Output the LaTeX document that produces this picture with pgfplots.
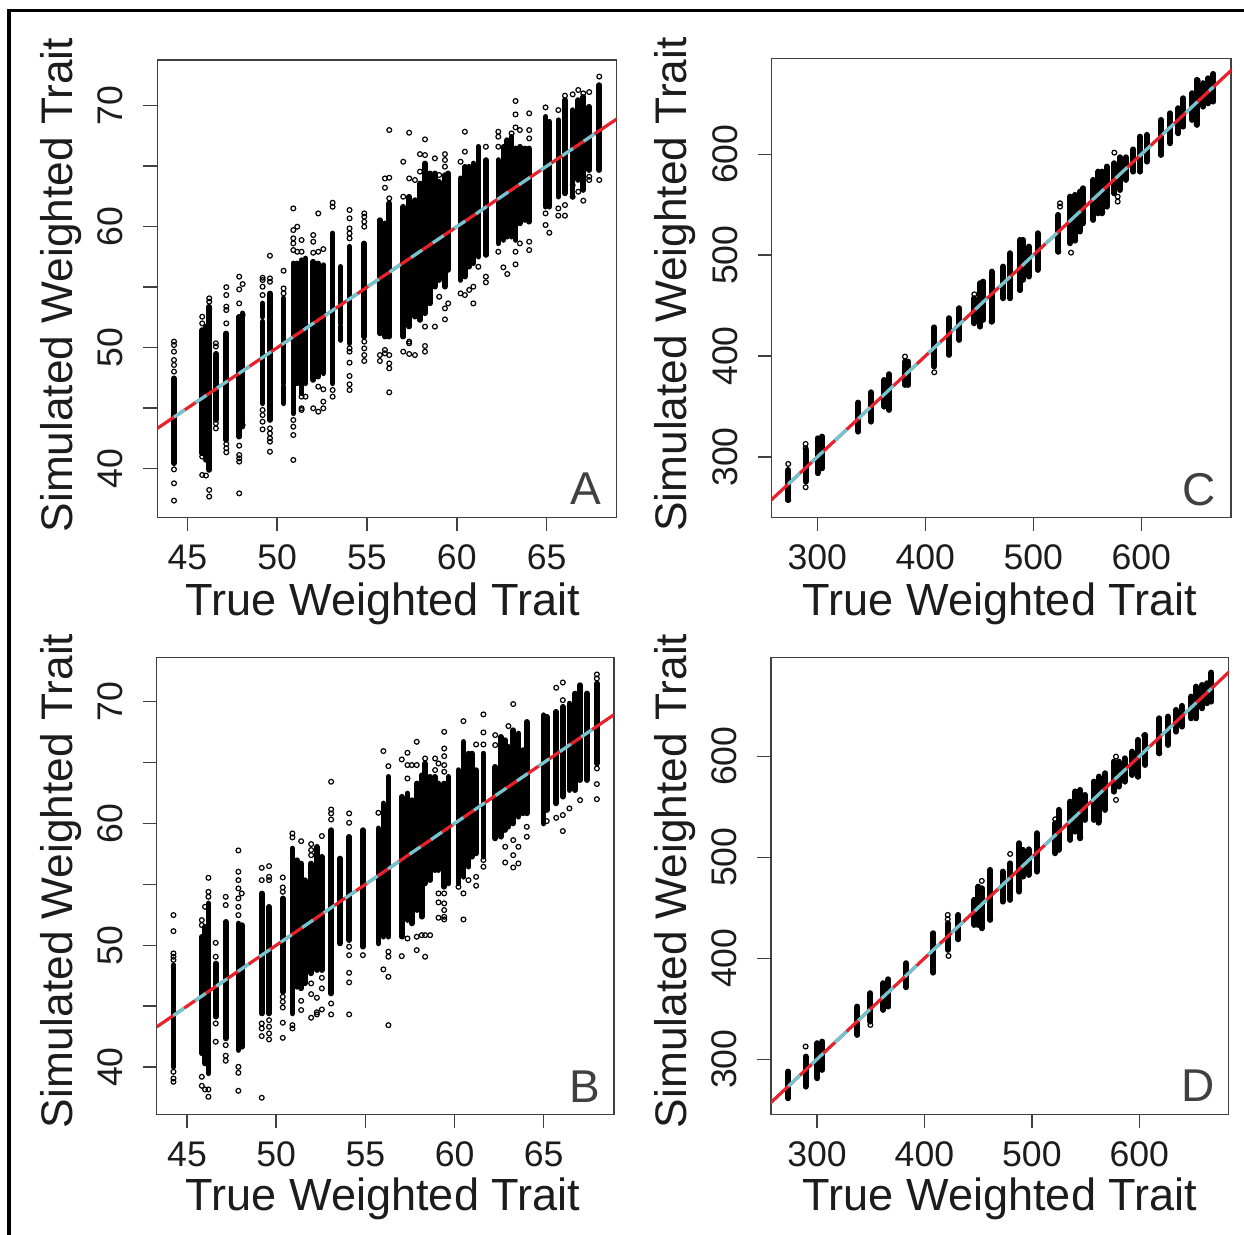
\documentclass[border=0pt]{standalone}
\usepackage{fontspec}
\setmainfont{Liberation Sans}
\usepackage{pgfplots}
\usepackage{pgfplotstable}
\pgfplotsset{compat=1.18}
\definecolor{axgray}{HTML}{404040}
\definecolor{fitred}{HTML}{E8212B}
\definecolor{fitcyan}{HTML}{6FC7D2}
\definecolor{txt}{HTML}{1C1C1C}

% dense parts of the columns: x, lowest y, highest y
\pgfplotstableread[row sep=\\]{x lo hi\\
44.26 40.44 47.47\\45.83 41.27 51.46\\46.04 40.72 51.74\\46.22 39.89 53.39\\46.59 44.02 49.5\\47.17 42.37 51.18\\47.89 42.64 52.56\\48.08 43.47 52.84\\49.19 45.4 52.15\\49.19 52.56 53.66\\49.6 44.02 54.49\\50.36 47.05 54.08\\50.36 45.4 46.8\\50.9 44.57 56.97\\51.12 47.05 56.97\\51.36 46.23 57.24\\51.58 47.05 57.38\\52.01 47.33 57.11\\52.29 47.6 56.97\\52.57 47.88 56.83\\53.09 47.05 59.45\\53.53 52.01 56.69\\53.53 50.63 51.74\\54.03 50.36 58.35\\54.85 50.91 58.62\\55.72 51.18 60.55\\56.0 50.91 60.27\\56.24 50.91 61.93\\57.02 50.91 61.65\\57.35 51.74 62.48\\57.67 52.56 62.2\\57.95 52.29 63.58\\58.23 52.84 65.23\\58.5 53.66 64.41\\58.78 55.04 64.41\\59.02 55.59 63.72\\59.34 55.04 64.27\\59.52 56.42 64.41\\60.21 55.59 64.0\\60.45 55.87 64.96\\60.69 56.69 64.96\\60.92 56.97 65.23\\61.2 57.52 66.61\\61.62 57.66 65.51\\62.31 58.62 65.51\\62.59 58.9 66.61\\62.81 59.17 67.16\\63.05 59.17 67.44\\63.27 58.9 66.47\\63.51 60.27 66.61\\63.79 60.55 66.47\\64.03 60.41 66.47\\64.94 61.65 69.09\\65.15 61.65 68.68\\65.65 62.48 68.81\\66.02 62.75 70.47\\66.45 62.48 69.64\\66.76 63.86 70.47\\67.04 63.03 70.74\\67.37 64.68 69.92\\67.93 64.68 71.71\\
}\coreA
\pgfplotstableread[row sep=\\]{x lo hi\\
44.24 40.02 48.37\\45.83 41.12 50.7\\46.01 40.29 51.52\\46.2 39.48 53.44\\46.61 44.13 48.51\\47.17 42.35 51.93\\47.88 41.39 51.79\\48.07 41.66 51.66\\49.19 44.4 54.26\\49.6 44.4 53.16\\50.37 46.18 53.85\\50.91 44.4 57.95\\51.15 46.59 56.99\\51.4 46.46 56.72\\51.62 46.87 55.35\\51.96 47.69 56.72\\52.28 47.96 58.09\\52.56 47.96 57.27\\53.08 46.04 59.46\\53.58 50.15 57.13\\54.09 50.42 58.91\\54.86 49.88 59.46\\55.73 50.15 59.6\\56.01 50.7 61.65\\56.29 50.7 63.84\\57.04 50.7 62.2\\57.36 52.07 62.47\\57.6 51.79 61.92\\57.88 52.89 63.29\\58.16 52.34 63.97\\58.35 55.08 64.93\\58.63 55.35 63.84\\58.91 56.17 63.84\\59.1 56.17 63.29\\59.42 54.8 63.29\\59.66 55.08 63.84\\60.22 55.08 64.39\\60.5 55.62 66.71\\60.78 56.45 65.75\\60.97 57.27 65.75\\61.21 57.54 64.39\\61.62 57.27 65.75\\62.28 58.77 64.66\\62.59 58.91 67.12\\62.84 59.46 66.85\\63.02 59.73 66.3\\63.29 60 67.67\\63.58 60.55 67.4\\63.83 60.83 66.03\\64.05 60.83 68.35\\64.99 60 68.9\\65.17 61.1 68.77\\65.7 61.65 69.18\\66.07 62.2 69.59\\66.44 62.74 69.86\\66.76 62.74 70.68\\67.04 63.56 71.37\\67.42 63.56 70.68\\67.98 64.93 71.5\\
}\coreB
\pgfplotstableread[row sep=\\]{x lo hi\\
273.1 257.4 287.1\\289.2 275.6 307\\300.3 283.9 318.5\\304.6 288.8 320.2\\338 325.1 353.9\\349.7 335 364.1\\362 349.9 376.3\\366.4 346.6 382\\381.2 371.4 394.5\\384.3 371.4 394.5\\408.3 389.6 428.5\\421.9 401.1 437.5\\431.5 416 447.4\\445.4 432.5 457.3\\450.6 429.2 472.2\\453.7 435.8 473.8\\461.4 434.2 483.7\\472.2 457.3 488.7\\478.4 457.3 501.9\\487.6 465.5 515.1\\490.7 475.5 515.1\\496 478.8 508.5\\504 485.4 521.7\\523.1 503.5 539.9\\534 511.8 558\\538.6 515.1 559.7\\543.2 523.4 563\\546.3 531.6 566.3\\555.6 534.9 574.6\\560.2 541.5 582.8\\563.9 541.5 582.8\\567.9 548.1 587.8\\575 561.3 591.1\\580.2 564.6 597\\585.5 574.6 597\\592.6 582.8 604.8\\598.8 582.8 617.5\\604.9 592.7 619.2\\618.2 599.3 634\\626.5 610.9 640.6\\634.2 620.8 645.6\\638.9 627.4 655.5\\647.2 634 660.5\\651.2 629.1 673.7\\657.4 647.2 670.4\\662 650.5 675.3\\666.7 652.2 679.6\\
}\coreC
\pgfplotstableread[row sep=\\]{x lo hi\\
273.3 261.4 287.8\\289.4 272.9 302.7\\300.3 281.2 315.9\\305 289.5 317.5\\337.6 324.1 352.2\\349.7 337.3 365.4\\361.8 348.9 375.3\\366.5 352.2 379.2\\382.9 371.3 395.1\\408.4 385.8 424.8\\421.7 408.3 434.7\\431.7 418.8 442.9\\446.6 433 457.8\\450.3 433 471\\453.4 429.7 469.3\\461.2 438 487.5\\472.7 456.1 485.8\\479.8 457.8 494\\488.2 466 513.9\\492.2 480.9 507.3\\496.9 482.5 507.9\\504.6 485.8 523.8\\521.7 504 533.7\\524.8 507.3 546.9\\535.7 517.2 555.1\\540.4 525.4 565\\545 518.8 566.7\\549.7 537 561.7\\557.4 537 574.9\\562.1 535.3 579.9\\568.3 546.9 583.2\\576.1 565 594.7\\580.8 570 594.7\\586.3 574.9 598\\593.2 581.5 604.6\\598.8 579.9 616.2\\605.6 591.4 621.1\\618.6 603 637.6\\626.7 611.2 639.3\\634.2 624.4 645.9\\639.8 629.4 649.9\\648.4 637.6 659.1\\652.8 637.6 669\\658.4 647.5 670.6\\663 652.5 672.3\\667.1 654.1 682.9\\
}\coreD

% separate open circles
\pgfplotstableread[row sep=\\]{x y\\
44.26 50.5\\44.26 50.22\\44.26 49.67\\44.26 48.98\\44.26 48.57\\44.26 48.02\\44.26 39.94\\44.26 38.79\\44.26 37.36\\45.83 52.56\\45.83 52.01\\45.83 41\\45.83 39.48\\46.04 39.43\\46.22 54.08\\46.22 53.8\\46.22 53.25\\46.22 38.24\\46.22 37.69\\46.59 50.36\\46.59 50.1\\46.59 43.75\\46.59 43.33\\47.17 55\\47.17 54.35\\47.17 53.39\\47.17 53.11\\47.17 52.01\\47.17 42.04\\47.17 41.68\\47.17 41.35\\47.89 55.87\\47.89 54.82\\47.89 53.66\\47.89 41.9\\47.89 41.13\\47.89 40.85\\47.89 40.58\\47.89 37.96\\48.08 55.26\\48.08 52.7\\48.08 43.61\\49.19 55.78\\49.19 55.59\\49.19 55.04\\49.19 54.35\\49.19 44.85\\49.19 44.43\\49.19 43.88\\49.19 43.25\\49.6 57.6\\49.6 55.73\\49.6 55.45\\49.6 43.33\\49.6 42.92\\49.6 42.51\\49.6 42.23\\49.6 41.4\\50.36 56.36\\50.36 54.9\\50.36 54.49\\50.9 61.51\\50.9 59.72\\50.9 59.04\\50.9 58.62\\50.9 58.07\\50.9 44.02\\50.9 43.47\\50.9 42.78\\50.9 40.72\\51.12 60\\51.12 57.93\\51.36 58.9\\51.36 57.93\\51.36 45.95\\51.36 44.99\\51.36 44.85\\51.58 45.95\\52.01 59.31\\52.01 58.76\\52.01 57.85\\52.01 44.99\\52.29 61.1\\52.29 57.93\\52.29 46.78\\52.29 44.71\\52.57 58.15\\52.57 46.56\\52.57 45.54\\52.57 44.99\\53.09 61.98\\53.09 61.65\\53.09 46.5\\53.09 45.95\\54.03 61.38\\54.03 60.69\\54.03 59.86\\54.03 59.45\\54.03 59.04\\54.03 49.94\\54.03 49.67\\54.03 48.76\\54.03 47.66\\54.03 46.97\\54.03 46.5\\54.85 61.1\\54.85 60.83\\54.85 60.41\\54.85 60\\54.85 50.5\\54.85 49.94\\54.85 49.39\\54.85 48.9\\55.72 49.39\\55.72 48.9\\56 63.99\\56 63.22\\56 49.81\\56 49.53\\56.24 67.99\\56.24 64.05\\56.24 62.34\\56.24 49.39\\56.24 48.7\\56.24 48.29\\56.24 46.31\\57.02 65.37\\57.02 62.48\\57.02 49.67\\57.35 67.77\\57.35 63.99\\57.35 50.5\\57.35 50.36\\57.35 49.48\\57.67 63.86\\57.67 49.39\\57.95 66\\57.95 64.55\\58.23 67.22\\58.23 65.92\\58.23 51.74\\58.23 50.14\\58.23 49.67\\58.78 65.65\\58.78 51.74\\59.02 64.27\\59.02 54.21\\59.34 66\\59.34 65.51\\59.34 64.96\\59.34 53.25\\59.34 52.34\\59.52 53.66\\60.21 65.37\\60.21 54.49\\60.45 67.85\\60.45 66.2\\60.45 54.35\\60.69 54.77\\60.92 55.04\\60.92 53.66\\61.2 56.69\\61.62 66.61\\61.62 55.87\\61.62 55.4\\62.31 67.85\\62.31 67.44\\62.31 66.61\\62.31 57.93\\62.59 56.64\\62.81 56.09\\63.05 67.71\\63.27 70.39\\63.27 69.28\\63.27 68.21\\63.27 57.93\\63.27 56.89\\63.51 67.99\\63.51 58.62\\64.03 69.37\\64.03 67.99\\64.03 67.3\\64.03 58.76\\64.03 58.07\\64.94 69.86\\64.94 61.1\\64.94 60.14\\65.15 59.5\\65.65 69.64\\65.65 61.51\\65.65 60.91\\66.02 70.83\\66.02 61.79\\66.02 60.91\\66.45 70.94\\66.45 63.44\\66.45 62.48\\66.76 71.3\\66.76 62.89\\67.04 71.02\\67.04 62.15\\67.37 71.13\\67.37 64.13\\67.37 63.86\\67.93 72.41\\67.93 63.86\\
}\ptsA
\pgfplotstableread[row sep=\\]{x y\\
44.24 52.48\\44.24 51.16\\44.24 49.33\\44.24 49.06\\44.24 48.8\\44.24 39.61\\44.24 39.06\\44.24 38.79\\45.83 52.07\\45.83 51.66\\45.83 39.2\\45.83 38.46\\46.01 53.16\\46.01 38.16\\46.2 55.54\\46.2 54.39\\46.2 53.98\\46.2 37.56\\46.2 38.16\\46.61 50.2\\46.61 49.06\\46.61 43.58\\46.61 42.08\\47.17 53.98\\47.17 53.3\\47.17 41.8\\47.17 40.93\\47.17 40.52\\47.88 57.79\\47.88 56.04\\47.88 55.35\\47.88 54.67\\47.88 53.85\\47.88 53.16\\47.88 52.48\\47.88 40.02\\47.88 39.53\\47.88 38.05\\48.07 54.26\\49.19 56.36\\49.19 55.35\\49.19 43.58\\49.19 43.17\\49.19 42.54\\49.19 37.48\\49.6 56.5\\49.6 55.62\\49.6 55.35\\49.6 43.85\\49.6 43.31\\49.6 42.76\\49.6 42.27\\50.37 55.57\\50.37 54.75\\50.37 54.39\\50.37 45.77\\50.37 45.36\\50.37 44.89\\50.37 43.64\\50.37 42.4\\50.91 59.18\\50.91 58.86\\50.91 43.44\\50.91 43.17\\51.4 58.55\\51.4 45.44\\51.4 44.68\\51.96 58.31\\51.96 57.82\\51.96 57.4\\51.96 46.87\\51.96 45.99\\51.96 44.05\\52.28 45.69\\52.28 44.32\\52.28 44.5\\52.56 58.97\\52.56 47.33\\52.56 46.46\\52.56 44.73\\53.08 63.43\\53.08 61.15\\53.08 60.83\\53.08 60.33\\53.08 45.22\\53.08 44.32\\54.09 60.83\\54.09 60.06\\54.09 49.88\\54.09 49.19\\54.09 47.74\\54.09 46.95\\54.09 44.32\\54.86 49.19\\55.73 60.88\\56.01 65.95\\56.01 48.02\\56.29 64.71\\56.29 49.47\\56.29 49.06\\56.29 47.41\\56.29 43.44\\57.04 65.26\\57.04 49.11\\57.36 65.81\\57.36 64.8\\57.36 63.7\\57.36 50.56\\57.6 64.8\\57.88 66.71\\57.88 64.8\\57.88 50.7\\57.88 49.6\\58.16 50.83\\58.35 65.34\\58.35 50.83\\58.35 49.06\\58.63 50.83\\58.91 65.34\\58.91 64.39\\59.1 64.93\\59.1 54.26\\59.1 53.52\\59.1 52.26\\59.42 67.53\\59.42 66.16\\59.42 65.53\\59.42 64.8\\59.42 64.25\\59.42 54.26\\59.42 53.44\\59.42 52.89\\59.42 52.34\\59.42 52.12\\60.22 54.8\\60.5 68.41\\60.5 54.26\\60.5 52.12\\60.78 55.35\\61.21 66.49\\61.21 55.62\\61.21 54.89\\61.62 68.96\\61.62 67.48\\61.62 66.49\\61.62 57\\61.62 56.45\\62.28 67.26\\62.28 66.44\\62.84 58.09\\62.84 56.8\\63.02 68\\63.29 69.81\\63.29 58.64\\63.29 57.4\\63.29 56.39\\63.58 58.09\\63.58 56.72\\64.05 59.73\\64.05 58.91\\65.17 60.2\\65.7 71.15\\65.7 60.47\\66.07 71.58\\66.07 70.13\\66.07 60.69\\66.07 59.38\\66.44 61.24\\67.04 61.92\\67.98 72.24\\67.98 71.91\\67.98 64.52\\67.98 63.24\\67.98 62\\
}\ptsB
\pgfplotstableread[row sep=\\]{x y\\
273.1 293.1\\273.1 257.4\\289.2 312.9\\289.2 308.6\\289.2 270\\381.2 399.5\\408.3 383.9\\445.4 461.2\\450.6 430.9\\461.4 434.2\\487.6 465.5\\524.7 551.4\\524.7 548.1\\523.1 503.5\\534.9 502.5\\538.6 514.4\\575 601.6\\578.1 558\\578.1 553.1\\651.2 630\\652.1 673\\563.9 542.5\\
}\ptsC
\pgfplotstableread[row sep=\\]{x y\\
289.4 312.6\\349.7 334\\422.4 402.3\\421.7 442.9\\421.7 438.6\\453.4 476.6\\479.8 503.3\\461.2 438.6\\521.7 537.6\\540.4 565\\545 519.5\\562.1 534.3\\578.3 599.7\\578.3 556.8\\598.8 579.9\\604.6 620.5\\618.6 603\\
}\ptsD

\pgfplotsset{
  simpanel/.style={
    scale only axis, axis on top=false,
    anchor=north west,
    axis line style={draw=axgray,line width=0.75pt},
    tick style={draw=axgray,line width=0.75pt},
    major tick length=7pt, tick align=outside,
    xtick pos=bottom, ytick pos=left,
    minor tick num=0,
    clip=true,
    xlabel={True Weighted Trait}, ylabel={Simulated Weighted Trait},
    xlabel style={font=\fontsize{22.55}{26}\selectfont, text=txt, anchor=base},
    ylabel style={font=\fontsize{22.12}{26}\selectfont, text=txt, anchor=base, rotate=0},
    tick label style={font=\fontsize{17.8}{20}\selectfont, text=txt},
    xticklabel style={anchor=base,yshift=-19pt},
    yticklabel style={rotate=90,anchor=base,yshift=10.3pt},
  },
  corebars/.style={forget plot, no marks, black, line width=#1, line cap=round,
    quiver={u=0, v=\thisrow{hi}-\thisrow{lo},
      every arrow/.append style={-, line width=#1, line cap=round, black}}},
  pts/.style={only marks, forget plot, mark=o, mark size=1.2pt,
    mark options={draw=black, line width=0.6pt, fill=none}},
  redline/.style={no marks, forget plot, draw=fitred, line width=1.6pt},
  cyanline/.style={no marks, forget plot, draw=fitcyan, line width=1.6pt},
}
\newcommand{\panelletter}[2]{\node[anchor=base east,inner sep=0pt,text=axgray,font=\fontsize{23}{26}\selectfont] at (#1) {#2};}

\begin{document}
\begin{tikzpicture}
\path[use as bounding box] (0,0) rectangle (622pt,-617.5pt);
\draw[black,line width=1.7pt] (4.5pt,-617.5pt) -- (4.5pt,-5.2pt) -- (622pt,-5.2pt);

\begin{axis}[simpanel, at={(78.65pt,-30pt)}, width=229.7pt, height=228.65pt,
  xmin=43.33, xmax=68.9, ymin=35.98, ymax=73.78,
  xlabel style={at={(axis description cs:0.491,-0.215)}},
  ylabel style={at={(axis description cs:-0.185,0.5076)}},
  xtick={45,50,55,60,65}, xticklabels={45,50,55,60,65},
  ytick={40,45,50,55,60,65,70}, yticklabels={40,,50,,60,,70}]
\addplot[corebars=2.8pt] table[x=x,y=lo] {\coreA};
\addplot[pts] table[x=x,y=y] {\ptsA};
\addplot[redline] coordinates {(43.33,43.33)(68.9,68.9)};
\addplot[cyanline,dash pattern=on 6.5pt off 6.5pt] coordinates {(44.26,44.26)(67.93,67.93)};
\panelletter{rel axis cs:0.9666,0.0269}{A}
\end{axis}

\begin{axis}[simpanel, at={(78.35pt,-328.65pt)}, width=228.65pt, height=228.5pt,
  xmin=43.3, xmax=68.94, ymin=36.12, ymax=73.65,
  xlabel style={at={(axis description cs:0.4949,-0.21)}},
  ylabel style={at={(axis description cs:-0.185,0.5106)}},
  xtick={45,50,55,60,65}, xticklabels={45,50,55,60,65},
  ytick={40,45,50,55,60,65,70}, yticklabels={40,,50,,60,,70}]
\addplot[corebars=2.8pt] table[x=x,y=lo] {\coreB};
\addplot[pts] table[x=x,y=y] {\ptsB};
\addplot[redline] coordinates {(43.3,43.3)(68.94,68.94)};
\addplot[cyanline,dash pattern=on 6.5pt off 6.5pt] coordinates {(44.24,44.24)(67.98,67.98)};
\panelletter{rel axis cs:0.971,0.0265}{B}
\end{axis}

\begin{axis}[simpanel, at={(385.85pt,-29.35pt)}, width=229.65pt, height=229.3pt,
  xmin=257.8, xmax=683, ymin=240.2, ymax=694.7,
  xlabel style={at={(axis description cs:0.4971,-0.215)}},
  ylabel style={at={(axis description cs:-0.185,0.5076)}},
  xtick={300,400,500,600}, xticklabels={300,400,500,600},
  ytick={300,400,500,600}, yticklabels={300,400,500,600}]
\addplot[corebars=3pt] table[x=x,y=lo] {\coreC};
\addplot[pts] table[x=x,y=y] {\ptsC};
\addplot[redline] coordinates {(240,240)(700,700)};
\addplot[cyanline,dash pattern=on 8pt off 8pt] coordinates {(273.1,273.1)(666.7,666.7)};
\panelletter{rel axis cs:0.9675,0.0265}{C}
\end{axis}

\begin{axis}[simpanel, at={(385.5pt,-328.65pt)}, width=228.85pt, height=228.5pt,
  xmin=257.2, xmax=683.2, ymin=245.5, ymax=698,
  xlabel style={at={(axis description cs:0.5003,-0.21)}},
  ylabel style={at={(axis description cs:-0.185,0.5106)}},
  xtick={300,400,500,600}, xticklabels={300,400,500,600},
  ytick={300,400,500,600}, yticklabels={300,400,500,600}]
\addplot[corebars=3pt] table[x=x,y=lo] {\coreD};
\addplot[pts] table[x=x,y=y] {\ptsD};
\addplot[redline] coordinates {(240,240)(700,700)};
\addplot[cyanline,dash pattern=on 8pt off 8pt] coordinates {(273.3,273.3)(667.1,667.1)};
\panelletter{rel axis cs:0.9702,0.0275}{D}
\end{axis}
\end{tikzpicture}
\end{document}
